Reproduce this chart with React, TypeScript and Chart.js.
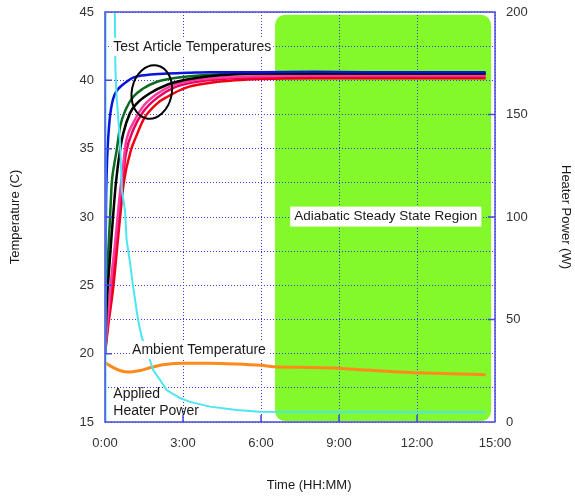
import { useEffect, useRef } from "react";
import { Chart, registerables } from "chart.js";
Chart.register(...registerables);

const FONT = '"Liberation Sans", Arial, sans-serif';
const AXIS_BLUE = "#4848dc";
const GRID_BLUE = "#3a3ae8";
const TEXT = "#1a1a1a";

// Time in hours
const xTicks = [0, 3, 6, 9, 12, 15];

// Test article temperatures (C)
const tBlue = [0, 0.02, 0.04, 0.07, 0.1, 0.15, 0.2, 0.28, 0.38, 0.5, 0.6, 0.83, 1.08, 1.4, 1.75, 2.4, 3.2, 4, 6, 8, 10, 12, 14.64];
const blueT = [20, 26, 31, 33.5, 35, 36.5, 37.5, 38.4, 39.0, 39.35, 39.55, 39.9, 40.2, 40.35, 40.42, 40.5, 40.55, 40.6, 40.6, 40.62, 40.6, 40.6, 40.6];

const tGreen = [0, 0.03, 0.06, 0.13, 0.2, 0.26, 0.35, 0.45, 0.58, 0.83, 1.09, 1.47, 2.0, 2.62, 3.27, 4.5, 6, 8, 10, 12, 14.64];
const greenT = [20, 23, 25.2, 27.6, 30.2, 32.5, 33.8, 34.9, 36.6, 38.0, 38.8, 39.4, 39.9, 40.15, 40.3, 40.45, 40.5, 40.5, 40.52, 40.5, 40.5];

const tBlack = [0, 0.05, 0.12, 0.26, 0.42, 0.58, 0.7, 0.96, 1.22, 1.73, 2.37, 3.0, 4, 5, 6, 8, 10, 12, 14.64];
const blackT = [20, 23, 25.2, 28.8, 32.5, 34.9, 36.1, 37.6, 38.3, 39.05, 39.66, 40.0, 40.3, 40.45, 40.5, 40.5, 40.5, 40.5, 40.5];

const tPink = [0, 0.1, 0.23, 0.4, 0.55, 0.7, 0.8, 1.09, 1.47, 1.99, 2.63, 3.4, 4.5, 6, 8, 10, 12, 14.64];
const pinkT = [20, 22.5, 25.3, 28.3, 31.3, 33.8, 35.4, 36.9, 38.1, 39.0, 39.65, 40.0, 40.2, 40.3, 40.35, 40.35, 40.35, 40.35];
const magentaT = [20, 22, 24.7, 27.5, 30.5, 33, 34.6, 36.4, 37.7, 38.7, 39.45, 39.85, 40.1, 40.22, 40.28, 40.28, 40.28, 40.28];

const tRed = [0, 0.12, 0.32, 0.58, 0.72, 1.0, 1.2, 1.5, 2.0, 2.4, 3.1, 4, 5, 6, 8, 10, 12, 14.64];
const redT = [20, 22, 24.9, 30, 32.5, 34.9, 35.9, 37.2, 38.3, 38.8, 39.45, 39.8, 40.0, 40.1, 40.15, 40.15, 40.15, 40.15];

// Ambient temperature (C)
const tAmb = [0, 0.3, 0.6, 0.9, 1.3, 1.8, 2.3, 3, 4, 5, 6, 6.5, 7.5, 9, 10, 11, 12, 13, 14, 14.64];
const ambT = [19.35, 19.0, 18.75, 18.65, 18.75, 19.0, 19.2, 19.3, 19.3, 19.25, 19.15, 19.05, 19.0, 18.93, 18.8, 18.7, 18.6, 18.55, 18.5, 18.45];

// Applied heater power (W)
const tHeat = [0, 0.02, 0.3, 0.38, 0.4, 0.45, 0.58, 0.65, 0.77, 0.83, 0.96, 1.08, 1.27, 1.41, 1.73, 1.85, 2.12, 2.37, 2.88, 3.27, 4.04, 5.07, 5.96, 8, 10, 12, 14.64];
const heatP = [0, 300, 240, 200, 172, 158, 136, 113, 103, 89, 78, 66, 50, 41.5, 30, 25.4, 20.5, 15.6, 11.7, 9.8, 7.5, 5.9, 5.0, 4.9, 4.9, 4.8, 4.8];

// Adiabatic steady state region [t0, t1] x [T0, T1]
const regionX = [6.54, 14.85];
const regionY = [15.05, 44.8];

const pts = (ts: number[], vs: number[]) => ts.map((x, i) => ({ x, y: vs[i] }));

export default function App() {
  const ref = useRef<HTMLCanvasElement>(null);
  useEffect(() => {
    const font = { family: FONT, size: 13 };
    const overlay = {
      id: "overlay",
      beforeDraw(chart: any) {
        const { ctx, scales } = chart;
        const x0 = scales.x.getPixelForValue(regionX[0]);
        const x1 = scales.x.getPixelForValue(regionX[1]);
        const y0 = scales.y.getPixelForValue(regionY[1]);
        const y1 = scales.y.getPixelForValue(regionY[0]);
        const r = 12;
        ctx.save();
        ctx.fillStyle = "#83f82a";
        ctx.beginPath();
        ctx.moveTo(x0 + r, y0);
        ctx.lineTo(x1 - r, y0);
        ctx.quadraticCurveTo(x1, y0, x1, y0 + r);
        ctx.lineTo(x1, y1 - r);
        ctx.quadraticCurveTo(x1, y1, x1 - r, y1);
        ctx.lineTo(x0 + r, y1);
        ctx.quadraticCurveTo(x0, y1, x0, y1 - r);
        ctx.lineTo(x0, y0 + r);
        ctx.quadraticCurveTo(x0, y0, x0 + r, y0);
        ctx.closePath();
        ctx.fill();
        ctx.restore();
      },
      afterDraw(chart: any) {
        const { ctx, scales, chartArea: a } = chart;
        const sx = scales.x, sy = scales.y, sy1 = scales.y1;
        ctx.save();
        // border
        ctx.strokeStyle = AXIS_BLUE;
        ctx.lineWidth = 1.5;
        ctx.strokeRect(a.left, a.top, a.right - a.left, a.bottom - a.top);
        // inner ticks
        ctx.lineWidth = 1.5;
        ctx.beginPath();
        [20, 25, 30, 35, 40].forEach((v) => {
          const y = sy.getPixelForValue(v);
          ctx.moveTo(a.left, y);
          ctx.lineTo(a.left + 7, y);
        });
        [50, 100, 150].forEach((v) => {
          const y = sy1.getPixelForValue(v);
          ctx.moveTo(a.right, y);
          ctx.lineTo(a.right - 7, y);
        });
        [3, 6, 9, 12].forEach((v) => {
          const x = sx.getPixelForValue(v);
          ctx.moveTo(x, a.bottom);
          ctx.lineTo(x, a.bottom - 7);
        });
        ctx.stroke();

        // ellipse
        ctx.strokeStyle = "#000";
        ctx.lineWidth = 2;
        ctx.beginPath();
        ctx.ellipse(sx.getPixelForValue(1.8), sy.getPixelForValue(39.15), 20, 27, 0.2, 0, Math.PI * 2);
        ctx.stroke();

        // labels
        ctx.textBaseline = "middle";
        const label = (text: string, x: number, y: number, align: "left" | "center", bg: boolean, size = 14, padX = 2, padY = 2) => {
          ctx.font = `${size}px ${FONT}`;
          const w = ctx.measureText(text).width;
          const left = align === "left" ? x : x - w / 2;
          if (bg) {
            ctx.fillStyle = "#fff";
            ctx.fillRect(left - padX, y - 7 - padY, w + padX * 2, 14 + padY * 2);
          }
          ctx.fillStyle = TEXT;
          ctx.textAlign = "left";
          ctx.fillText(text, left, y);
        };
        label("Test Article Temperatures", sx.getPixelForValue(0.32), sy.getPixelForValue(42.45), "left", true);
        label("Ambient Temperature", sx.getPixelForValue(1.04), sy.getPixelForValue(20.27), "left", true);
        label("Applied", sx.getPixelForValue(0.32), sy.getPixelForValue(17.06), "left", false);
        label("Heater Power", sx.getPixelForValue(0.32), sy.getPixelForValue(15.78), "left", false);
        label("Adiabatic Steady State Region", sx.getPixelForValue(10.8), sy.getPixelForValue(30.03), "center", true, 13.5, 4, 3);

        // x axis title (slightly right of centre, as in the original)
        ctx.font = `13px ${FONT}`;
        ctx.fillStyle = TEXT;
        ctx.textAlign = "center";
        ctx.fillText("Time (HH:MM)", sx.getPixelForValue(7.85), 485);
        ctx.restore();
      },
    };

    const line = (label: string, data: any[], color: string, width: number, axis = "y", order = 1, smooth = true) => ({
      label,
      data,
      borderColor: color,
      backgroundColor: color,
      borderWidth: width,
      pointRadius: 0,
      yAxisID: axis,
      order,
      cubicInterpolationMode: smooth ? "monotone" : "default",
      tension: smooth ? 0.4 : 0,
      fill: false,
    });

    const chart = new Chart(ref.current as HTMLCanvasElement, {
      type: "line",
      data: {
        datasets: [
          line("Heater Power", pts(tHeat, heatP), "#4ce6f2", 2, "y1", 0, false),
          line("Blue", pts(tBlue, blueT), "#0b14dc", 2.5, "y", 2),
          line("Black", pts(tBlack, blackT), "#000000", 2.5, "y", 3),
          line("Green", pts(tGreen, greenT), "#0c6a20", 2.5, "y", 4),
          line("Pink", pts(tPink, pinkT), "#ff3a9e", 2.5, "y", 5),
          line("Magenta", pts(tPink, magentaT), "#e8005c", 2.5, "y", 6),
          line("Red", pts(tRed, redT), "#f0000e", 2.5, "y", 7),
          line("Ambient", pts(tAmb, ambT), "#ff8a1c", 3, "y", 8),
        ] as any,
      },
      options: {
        animation: false,
        responsive: false,
        events: [],
        layout: { padding: { top: 12, left: 0, right: 0, bottom: 0 } },
        plugins: { legend: { display: false }, tooltip: { enabled: false } },
        scales: {
          x: {
            type: "linear",
            min: 0,
            max: 15,
            position: "bottom",
            afterBuildTicks: (s: any) => {
              s.ticks = xTicks.map((v) => ({ value: v }));
            },
            afterFit: (s: any) => {
              s.height = 75;
              s.paddingLeft = 0;
              s.paddingRight = 0;
            },
            ticks: {
              font,
              color: "#333",
              padding: 14,
              maxRotation: 0,
              callback: (v: any) => `${v}:00`,
            },
            grid: { color: GRID_BLUE, lineWidth: 1, drawTicks: false },
            border: { display: false, dash: [1, 2] },
            title: { display: false },
          },
          y: {
            type: "linear",
            min: 15,
            max: 45,
            position: "left",
            afterFit: (s: any) => {
              s.width = 105;
              s.paddingTop = 0;
              s.paddingBottom = 0;
            },
            ticks: {
              stepSize: 2.5,
              font,
              color: "#333",
              padding: 11,
              callback: (v: any) => (Number(v) % 5 === 0 ? String(v) : ""),
            },
            grid: { color: GRID_BLUE, lineWidth: 1, drawTicks: false },
            border: { display: false, dash: [1, 2] },
            title: { display: true, text: "Temperature (C)", font, color: TEXT, padding: { top: 8, bottom: 0 } },
          },
          y1: {
            type: "linear",
            min: 0,
            max: 200,
            position: "right",
            afterFit: (s: any) => {
              s.width = 80;
              s.paddingTop = 0;
              s.paddingBottom = 0;
            },
            ticks: {
              stepSize: 25,
              font,
              color: "#333",
              padding: 11,
              callback: (v: any) => (Number(v) % 50 === 0 ? String(v) : ""),
            },
            grid: { display: false, drawTicks: false },
            border: { display: false },
            title: { display: true, text: "Heater Power (W)", font, color: TEXT, padding: { top: 2, bottom: 0 } },
          },
        },
      } as any,
      plugins: [overlay],
    });
    return () => chart.destroy();
  }, []);
  return (
    <div style={{ position: "fixed", left: 0, top: 0, width: 575, height: 497, background: "#fff" }}>
      <canvas ref={ref} width={575} height={497} />
    </div>
  );
}
